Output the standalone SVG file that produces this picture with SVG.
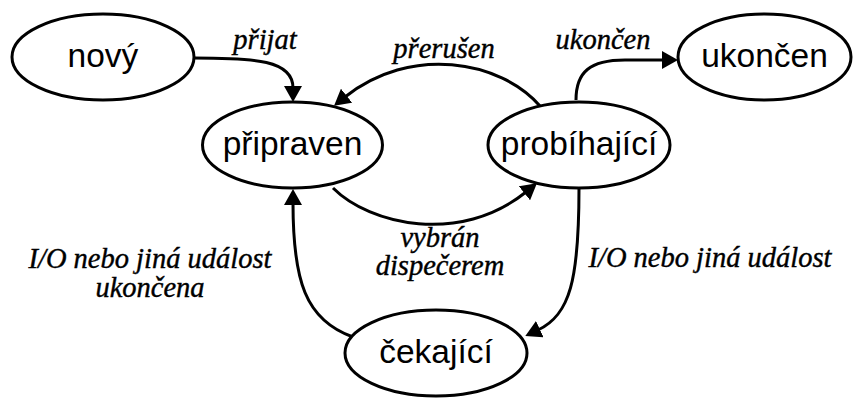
<svg xmlns="http://www.w3.org/2000/svg" width="853" height="399" viewBox="0 0 853 399">
<style>
.node ellipse{fill:#fff;stroke:#000;stroke-width:3}
.node text{font-family:"Liberation Sans",Arial,sans-serif;font-size:33.5px;text-anchor:middle;fill:#000}
.edge{fill:none;stroke:#000;stroke-width:3;marker-end:url(#arr)}
.lbl{font-family:"Liberation Serif","Times New Roman",serif;font-style:italic;font-size:28.5px;text-anchor:middle;fill:#000;stroke:#000;stroke-width:0.4}
</style>
<defs>
<marker id="arr" viewBox="0 0 16 18" refX="2" refY="9" markerWidth="16" markerHeight="18" markerUnits="userSpaceOnUse" orient="auto">
<path d="M0,0 L16,9 L0,18 z" fill="#000"/>
</marker>
</defs>
<rect width="853" height="399" fill="#fff"/>
<g id="connectors">
<path class="edge" d="M194,58 C255,58 293,60 293,88"/>
<path class="edge" d="M540,106 C500,60 410,45 345,97"/>
<path class="edge" d="M576,100 C576,72 590,60 625,60 L664,60"/>
<path class="edge" d="M333,188 C370,225 460,245 526,192"/>
<path class="edge" d="M579,188 C579,280 570,315 538,330"/>
<path class="edge" d="M353,337 C305,320 293,280 293,203"/>
</g>
<g id="labels">
<text class="lbl" x="265" y="49">přijat</text>
<text class="lbl" x="444" y="58">přerušen</text>
<text class="lbl" x="603" y="49">ukončen</text>
<text class="lbl" x="440" y="247">vybrán</text>
<text class="lbl" x="440" y="275">dispečerem</text>
<text class="lbl" x="150" y="268">I/O nebo jiná událost</text>
<text class="lbl" x="150" y="297">ukončena</text>
<text class="lbl" x="710" y="267">I/O nebo jiná událost</text>
</g>
<g id="novy" class="node"><ellipse cx="103" cy="57" rx="91" ry="43"/><text x="103" y="67">nový</text></g>
<g id="pripraven" class="node"><ellipse cx="292.5" cy="145" rx="90" ry="43"/><text x="292.5" y="155">připraven</text></g>
<g id="probihajici" class="node"><ellipse cx="579" cy="145" rx="91" ry="43"/><text x="579" y="155">probíhající</text></g>
<g id="ukoncen" class="node"><ellipse cx="764.5" cy="57" rx="86.5" ry="43"/><text x="764.5" y="67">ukončen</text></g>
<g id="cekajici" class="node"><ellipse cx="436" cy="353" rx="91" ry="43"/><text x="436" y="363">čekající</text></g>
</svg>
